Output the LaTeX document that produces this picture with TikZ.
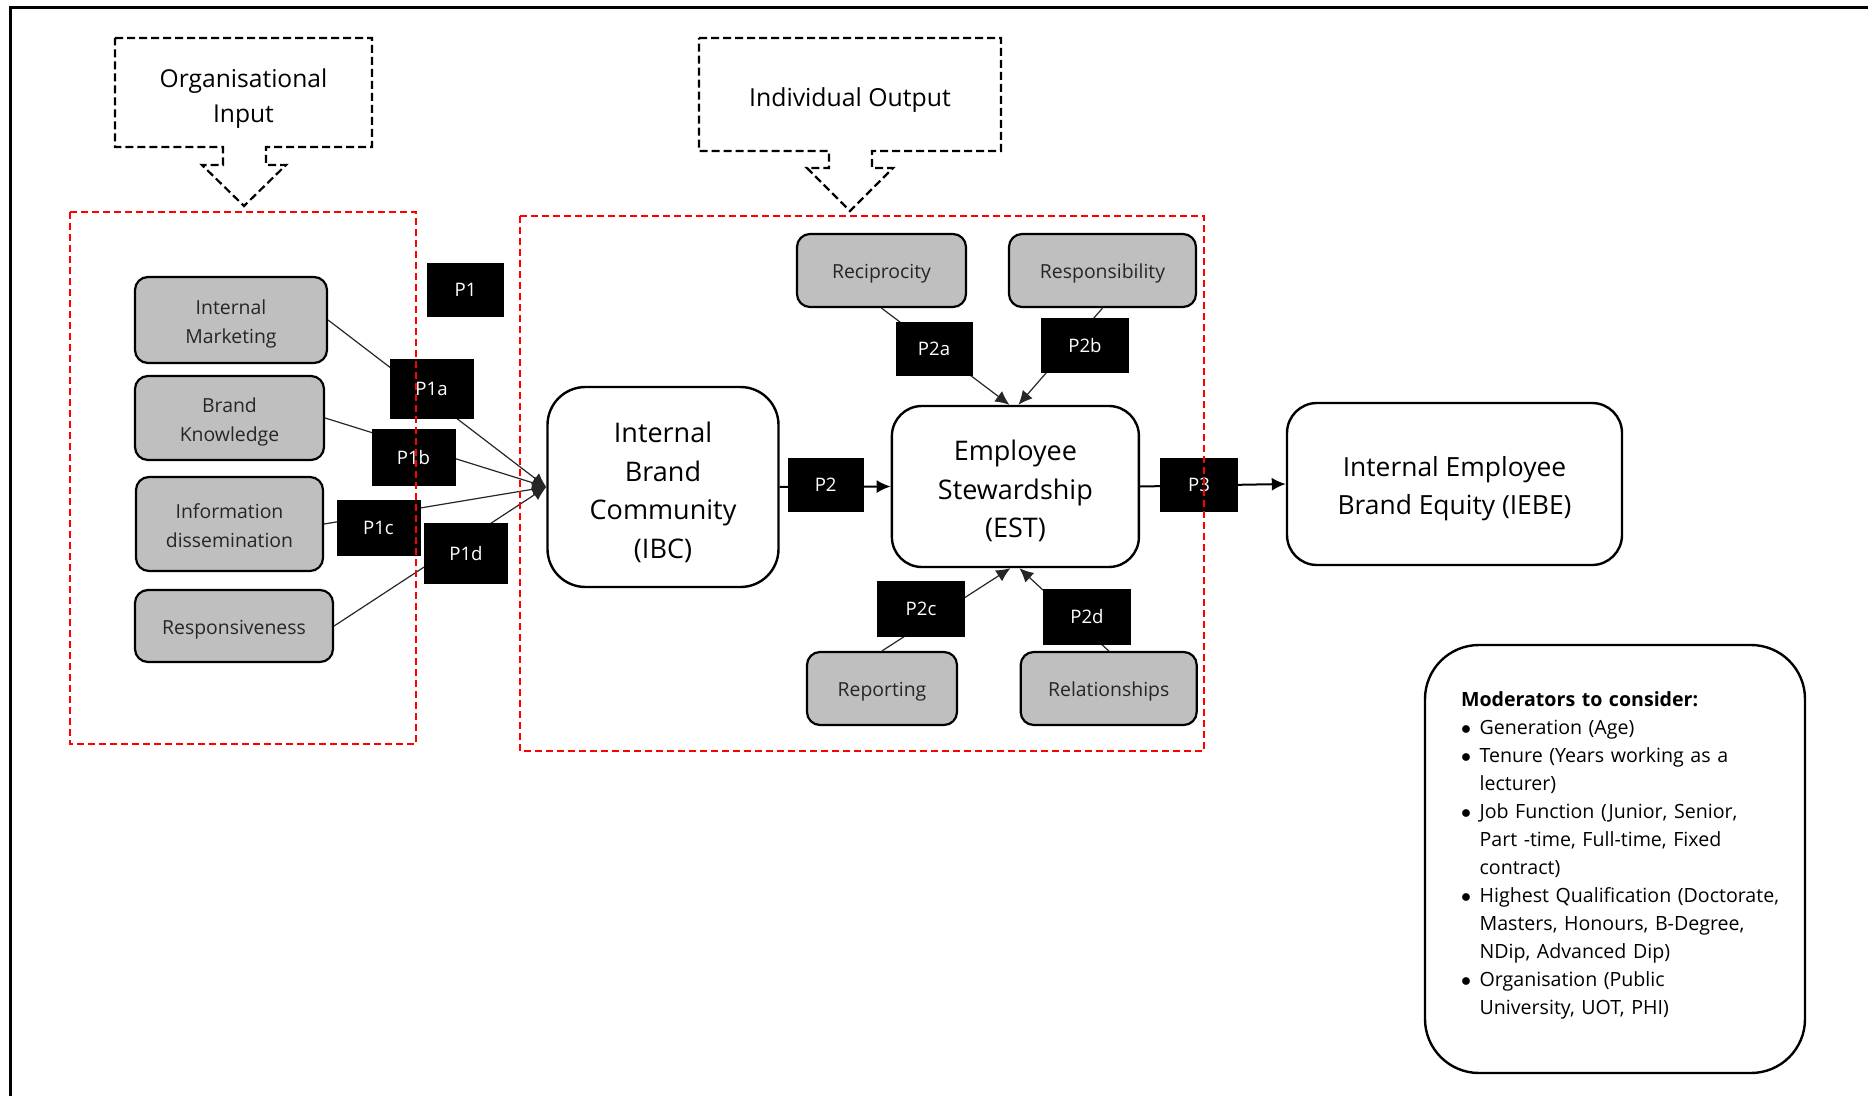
\documentclass[tikz,border=0pt]{standalone}
\usepackage{fontspec}
\setmainfont{Open Sans}
\usetikzlibrary{arrows.meta}

\newcommand{\modbul}{\makebox[9.3pt][l]{$\bullet$}}
\newcommand{\modgap}{\hspace*{9.3pt}}
\newcommand{\rowstrut}{\rule[-0.25em]{0pt}{1.35em}}
\newcommand{\toprow}[1][1.15em]{\rule{0pt}{#1}}

\begin{document}
\begin{tikzpicture}[x=0.5pt,y=-0.5pt,>={Latex[length=7pt,width=6.5pt]},
    factor/.style={draw,rounded corners=6.5pt,fill=black!25,line width=1.1pt,text=black!85,
      align=center,inner sep=0pt,font=\fontsize{9.7}{14.3}\selectfont\rowstrut},
    construct/.style={draw,line width=1.2pt,align=center,inner sep=0pt,
      font=\fontsize{13.5}{19.3}\selectfont\rowstrut},
    plabel/.style={fill=black,text=white,inner sep=0pt,minimum width=42pt,minimum height=28pt,
      font=\fontsize{9.3}{11}\selectfont},
    link/.style={line width=0.6pt,black!85},
    stage/.style={draw,line width=1.1pt,dash pattern=on 4pt off 2pt},
    zone/.style={draw=red,line width=1pt,dash pattern=on 3.5pt off 2pt}]
    \useasboundingbox (0,0) rectangle (1868,1096);
    \draw[line width=1.5pt] (10,1096) -- (10,8) -- (1868,8);

    % the two dashed callouts
    \node[font=\fontsize{12.3}{17.3}\selectfont\rowstrut,align=center] (orgin) at (243.5,94)
      {\toprow Organisational\\Input};
    \draw[stage] (115,38) -- (372,38) -- (372,147) -- (266,147) -- (266,165) -- (286,165) -- (244,206)
      -- (202,165) -- (223,165) -- (223,147) -- (115,147) -- cycle;
    \node[font=\fontsize{12.4}{17.3}\selectfont\rowstrut] (indout) at (850,96) {Individual Output};
    \draw[stage] (699,38) -- (1001,38) -- (1001,151) -- (872,151) -- (872,168) -- (893,168) -- (850,211)
      -- (807,168) -- (829,168) -- (829,151) -- (699,151) -- cycle;

    % organisational factors
    \node[factor,minimum width=96pt,minimum height=43pt] (im) at (231,320) {\toprow Internal\\Marketing};
    \node[factor,minimum width=94.5pt,minimum height=42pt] (bk) at (229.5,418) {\toprow Brand\\Knowledge};
    \node[factor,minimum width=93.5pt,minimum height=47pt] (id) at (229.5,524) {\toprow Information\\dissemination};
    \node[factor,minimum width=99pt,minimum height=36pt] (resp) at (234,626) {Responsiveness};

    % stewardship factors
    \node[factor,minimum width=84.5pt,minimum height=36.5pt] (recip) at (881.5,270.5) {Reciprocity};
    \node[factor,minimum width=93.5pt,minimum height=36.5pt] (respons) at (1102.5,270.5) {Responsibility};
    \node[factor,minimum width=75pt,minimum height=36.5pt] (report) at (882,688.5) {Reporting};
    \node[factor,minimum width=88pt,minimum height=36.5pt] (relate) at (1108.7,688.5) {Relationships};

    % main constructs
    \node[construct,rounded corners=19pt,minimum width=115.5pt,minimum height=100pt] (ibc) at (663,487)
      {\toprow[1.25em]Internal\\Brand\\Community\\(IBC)};
    \node[construct,rounded corners=15pt,minimum width=123.5pt,minimum height=80.5pt] (est) at (1015.4,486.5)
      {\toprow[1.2em]Employee\\Stewardship\\(EST)};
    \node[construct,rounded corners=15pt,minimum width=167.5pt,minimum height=81pt,
      font=\fontsize{13.2}{19}\selectfont\rowstrut] (iebe) at (1454.5,484)
      {\toprow Internal Employee\\Brand Equity (IEBE)};

    % moderators
    \node[draw,rounded corners=27pt,line width=1.2pt,minimum width=190pt,minimum height=214pt,
      text width=154pt,inner xsep=18pt,align=left,font=\fontsize{9.8}{14}\selectfont] (mods) at (1615,859)
      {{\bfseries Moderators to consider:}\\
       \modbul Generation (Age)\\
       \modbul Tenure (Years working as a\\
       \modgap lecturer)\\
       \modbul Job Function (Junior, Senior,\\
       \modgap Part -time,\ Full-time,\ Fixed\\
       \modgap contract)\\
       \modbul \mbox{Highest Qualification (Doctorate,}\\
       \modgap Masters, Honours, B-Degree,\\
       \modgap NDip, Advanced Dip)\\
       \modbul Organisation (Public\\
       \modgap University, UOT, PHI)\rule[-6pt]{0pt}{0pt}};

    % connectors
    \draw[->,link] (im.east) -- (ibc.west);
    \draw[->,link] (bk.east) -- (ibc.west);
    \draw[->,link] (id.east) -- (ibc.west);
    \draw[->,link] (resp.east) -- (ibc.west);
    \draw[->,line width=1pt] (ibc.east) -- (est.west);
    \draw[->,line width=1pt] (est.east) -- (iebe.west);
    \draw[->,link] (recip.south) -- ([xshift=-3pt]est.north);
    \draw[->,link] (respons.south) -- ([xshift=1.5pt]est.north);
    \draw[->,link] (report.north) -- ([xshift=-2.5pt]est.south);
    \draw[->,link] (relate.north) -- ([xshift=2pt]est.south);

    % propositions
    \node[plabel,minimum width=38.5pt,minimum height=27pt] (p1) at (465.5,290) {P1};
    \node[plabel,minimum height=30pt] (p1a) at (431.5,389) {P1a};
    \node[plabel] (p1b) at (413.5,457.5) {P1b};
    \node[plabel] (p1c) at (378.5,528) {P1c};
    \node[plabel,minimum height=30.5pt] (p1d) at (466,553.5) {P1d};
    \node[plabel,minimum width=38pt,minimum height=27pt] (p2) at (825.7,484.7) {P2};
    \node[plabel,minimum width=39pt,minimum height=27pt] (p3) at (1199,484.7) {P3};
    \node[plabel,minimum width=38.5pt,minimum height=27pt] (p2a) at (934,349) {P2a};
    \node[plabel,minimum width=44pt,minimum height=27.5pt] (p2b) at (1085,346) {P2b};
    \node[plabel,minimum width=44pt] (p2c) at (921,609) {P2c};
    \node[plabel,minimum width=44pt] (p2d) at (1087,617) {P2d};

    % red groupings
    \draw[zone] (70,212) rectangle (416,744);
    \draw[zone] (520,216) rectangle (1204,751);
\end{tikzpicture}
\end{document}
